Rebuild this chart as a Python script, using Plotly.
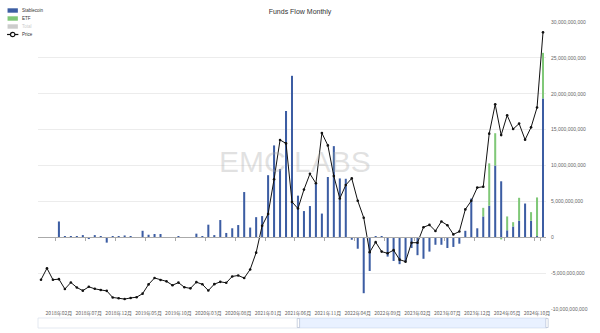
import plotly.graph_objects as go

# ---------------- data ----------------
months = []
y, m = 2017, 11
for _ in range(85):
    months.append(f"{y}年{m:02d}月")
    m += 1
    if m > 12:
        m = 1
        y += 1

# Stablecoin net flow (billions USD)
stablecoin_b = [
    0, 0, 0, 2.2, 0.05, 0.05, 0.05, 0.3, -0.25, 0.3,
    0.05, -0.75, 0.05, 0.1, 0.25, 0.05, 0.0, 0.9, 0.35, 0.45,
    0.45, 0.0, 0.02, 0.05, 0.0, 0.02, 0.5, 0.05, 1.75, 0.3,
    2.4, 0.6, 1.25, 1.7, 6.3, 1.35, 2.8, 2.95, 8.65, 12.8,
    9.5, 17.6, 22.5, 5.8, 3.65, 4.35, 7.6, 3.3, 8.4, 12.7,
    8.2, 8.15, -0.35, -1.6, -7.8, -4.7, 0.05, 0.05, -2.7, -3.3,
    -3.75, -3.4, -1.5, -2.5, -3.0, -2.0, -1.05, -1.05, -1.5, -1.35,
    -0.9, 0.9, 5.4, 1.25, 2.9, 4.4, 10.0, 7.8, 0.97, 1.5,
    2.3, 4.7, 2.3, 0.15, 19.35,
]
# ETF net flow (billions USD), from 2024-01
etf_b = [None] * 74 + [1.2, 5.9, 4.5, -0.3, 1.93, 0.6, 3.2, 0.0, 1.2, 5.4, 6.35]

# BTC monthly close price (thousand USD)
price_k = [
    10.2, 14.2, 10.2, 10.4, 6.97, 9.24, 7.49, 6.40, 7.73, 7.03,
    6.63, 6.32, 4.02, 3.74, 3.46, 3.85, 4.11, 5.35, 8.57, 10.8,
    10.1, 9.63, 8.29, 9.20, 7.57, 7.19, 9.35, 8.60, 6.44, 8.66,
    9.46, 9.14, 11.35, 11.68, 10.78, 13.78, 19.63, 29.0, 33.1, 45.2,
    58.9, 57.7, 37.3, 35.0, 41.6, 47.1, 43.8, 61.3, 57.0, 46.3,
    38.5, 43.2, 45.5, 37.7, 31.8, 19.8, 23.3, 20.0, 19.4, 20.5,
    17.2, 16.5, 23.1, 23.1, 28.5, 29.3, 27.2, 30.5, 29.2, 26.0,
    27.0, 34.7, 37.7, 42.3, 42.6, 61.1, 71.3, 60.6, 67.5, 62.7,
    64.6, 59.0, 63.3, 70.2, 96.4,
]

flow_ticks = [-10e9, -5e9, 0, 5e9, 10e9, 15e9, 20e9, 25e9, 30e9]
label_months = [months[i] for i in range(3, 85, 5)]

stablecoin = [v * 1e9 for v in stablecoin_b]
etf = [None if v is None else v * 1e9 for v in etf_b]
price = [v * 1000 for v in price_k]

# ---------------- layout geometry ----------------
W, H = 600, 333
L, R, T, B = 38, 555, 22, 309

def px(x):
    return (x - L) / (R - L)

def py(y):
    return (B - y) / (B - T)

BLUE = "#3c5da3"
GREEN = "#80c878"
GRAY_T = "#cccccc"

fig = go.Figure()
fig.add_trace(go.Bar(x=months, y=stablecoin, name="Stablecoin", marker_color=BLUE,
                     marker_line_width=0, showlegend=False))
fig.add_trace(go.Bar(x=months, y=etf, name="ETF", marker_color=GREEN,
                     marker_line_width=0, showlegend=False))
fig.add_trace(go.Scatter(x=months, y=price, name="Price", yaxis="y2", mode="lines+markers",
                         line=dict(color="#111111", width=1),
                         marker=dict(size=2.6, color="#111111"), showlegend=False))
# helper trace to carry the zero-line tick axis
fig.add_trace(go.Scatter(x=months, y=[None] * len(months), xaxis="x2", yaxis="y",
                         mode="lines", showlegend=False, hoverinfo="skip"))

tick_font = dict(family="Noto Sans CJK SC, Noto Sans, sans-serif", size=5, color="#666666")

fig.update_layout(
    width=W, height=H,
    margin=dict(l=L, r=W - R, t=T, b=H - B),
    paper_bgcolor="white", plot_bgcolor="white",
    barmode="relative", bargap=0.66,
    title=dict(text="Funds Flow Monthly", x=0.5, xanchor="center", y=1 - 12 / H, yanchor="middle",
               font=dict(family="Liberation Sans, Arial, sans-serif", size=7, color="#333333")),
    xaxis=dict(type="category", categoryorder="array", categoryarray=months,
               range=[-0.5, len(months) - 0.5],
               tickvals=label_months, ticktext=label_months, ticks="", showgrid=False,
               showline=False, zeroline=False, tickfont=tick_font, ticklabelstandoff=0),
    xaxis2=dict(type="category", categoryorder="array", categoryarray=months,
                range=[-0.5, len(months) - 0.5], overlaying="x", anchor="free",
                position=0.25, showticklabels=False, tickvals=label_months,
                tickson="boundaries", ticks="outside", ticklen=2.5, tickcolor="#aaaaaa",
                tickwidth=0.8, showline=True, linecolor="#aaaaaa", linewidth=0.8,
                showgrid=False, zeroline=False),
    yaxis=dict(range=[-10e9, 30e9], side="right", tickvals=flow_ticks,
               ticktext=[f"{int(v):,}" for v in flow_ticks], showgrid=True,
               gridcolor="#ececec", gridwidth=0.8, zeroline=False, showline=False,
               ticks="", tickfont=dict(family="Liberation Sans, Arial, sans-serif", size=5,
                                       color="#666666"), ticklabelstandoff=4),
    yaxis2=dict(range=[0, 100000], overlaying="y", side="left", showticklabels=False,
                showgrid=False, zeroline=False, showline=False, ticks=""),
    font=dict(family="Liberation Sans, Arial, sans-serif"),
)

shapes = []
annotations = []

# watermark
annotations.append(dict(text="EMC LABS", x=px(300), y=py(161), xref="paper", yref="paper",
                        showarrow=False, xanchor="center", yanchor="middle",
                        font=dict(family="Liberation Sans, Arial, sans-serif", size=30,
                                  color="rgba(170,170,170,0.35)")))

# manual legend
leg_items = [("Stablecoin", BLUE, "#333333", 10.5), ("ETF", GREEN, "#333333", 18.5),
             ("Total", GRAY_T, GRAY_T, 26.5)]
for name, col, tcol, yy in leg_items:
    shapes.append(dict(type="rect", xref="paper", yref="paper", x0=px(7), x1=px(17.5),
                       y0=py(yy + 2.2), y1=py(yy - 2.2), fillcolor=col, line=dict(width=0)))
    annotations.append(dict(text=name, x=px(20), y=py(yy), xref="paper", yref="paper",
                            showarrow=False, xanchor="left", yanchor="middle",
                            font=dict(size=4.5, color=tcol)))
shapes.append(dict(type="line", xref="paper", yref="paper", x0=px(6.5), x1=px(18),
                   y0=py(34.5), y1=py(34.5), line=dict(color="#111111", width=1.2)))
shapes.append(dict(type="circle", xref="paper", yref="paper", x0=px(10), x1=px(14.5),
                   y0=py(36.7), y1=py(32.3), fillcolor="white",
                   line=dict(color="#111111", width=1.2)))
annotations.append(dict(text="Price", x=px(20), y=py(34.5), xref="paper", yref="paper",
                        showarrow=False, xanchor="left", yanchor="middle",
                        font=dict(size=4.5, color="#333333")))

# data-zoom slider frame
shapes.append(dict(type="rect", xref="paper", yref="paper", x0=px(38), x1=px(556),
                   y0=py(328), y1=py(318), fillcolor="rgba(0,0,0,0)",
                   line=dict(color="#dde3ee", width=0.8)))
shapes.append(dict(type="rect", xref="paper", yref="paper", x0=px(303), x1=px(556),
                   y0=py(328), y1=py(318), fillcolor="rgba(135,175,274,0.18)",
                   line=dict(width=0)))
for hx in (303, 556):
    shapes.append(dict(type="rect", xref="paper", yref="paper", x0=px(hx - 1.2), x1=px(hx + 1.2),
                       y0=py(327.5), y1=py(318.5), fillcolor="white",
                       line=dict(color="#aab6cc", width=0.6)))

fig.update_layout(shapes=shapes, annotations=annotations)

fig.write_html("out.html")
